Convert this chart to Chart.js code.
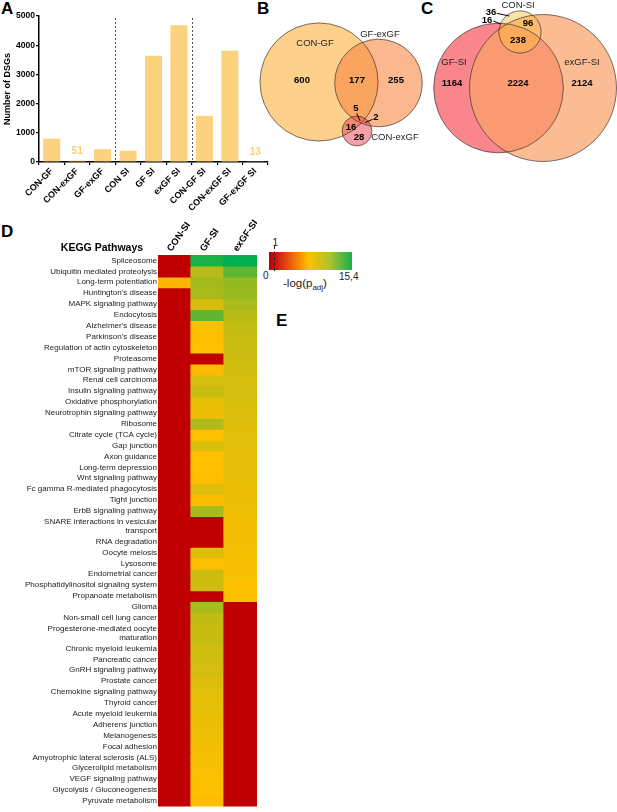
<!DOCTYPE html>
<html>
<head>
<meta charset="utf-8">
<script src="https://cdn.jsdelivr.net/npm/chart.js@4.4.0/dist/chart.umd.min.js"></script>
<style>
  body { margin: 0; width: 617px; height: 812px; position: relative; overflow: hidden; background: #fff;
         font-family: "Liberation Sans", Arial, sans-serif; color: #000; }
  .panel { position: absolute; font-weight: bold; font-size: 17px; line-height: 17px; }
  .box { position: absolute; }
  .txt { position: absolute; font-size: 10px; line-height: 10px; white-space: nowrap; color: #222; }
</style>
</head>
<body>
<div class="panel" style="left:1px;top:0px">A</div>
<div class="panel" style="left:257px;top:0px">B</div>
<div class="panel" style="left:421px;top:0px">C</div>
<div class="panel" style="left:1px;top:223px">D</div>
<div class="panel" style="left:276px;top:312px">E</div>

<div class="box" style="left:0;top:0;width:272px;height:222px"><canvas id="chartA"></canvas></div>
<div class="box" style="left:255px;top:0;width:362px;height:170px"><canvas id="chartVenn"></canvas></div>
<div class="box" style="left:0;top:200px;width:257px;height:612px"><canvas id="chartKegg"></canvas></div>
<div id="legend"></div>

<script>
Chart.defaults.font.family = '"Liberation Sans", Arial, sans-serif';
Chart.defaults.color = '#000';
Chart.defaults.animation = false;

// Panel A : nombre de DSGs par comparaison
const dsgCategories = ['CON-GF', 'CON-exGF', 'GF-exGF', 'CON SI', 'GF SI', 'exGF SI',
                       'CON-GF SI', 'CON-exGF SI', 'GF-exGF SI'];
const dsgCounts = [798, 51, 439, 386, 3642, 4682, 1580, 3810, 13];
const dsgTicks = [0, 1000, 2000, 3000, 4000, 5000];
const groupBreaks = [2, 5];

// Panels B et C : Venn
const vennBSets = ['CON-GF', 'GF-exGF', 'CON-exGF'];
const vennBTotals = [798, 439, 51];
const vennBRegions = [600, 177, 255, 5, 2, 16, 28];

const vennCSets = ['CON-SI', 'GF-SI', 'exGF-SI'];
const vennCTotals = [386, 3642, 4682];
const vennCRegions = [36, 16, 96, 238, 1164, 2224, 2124];

// Panel D : KEGG, -log(p adj)
const keggColumns = ['CON-SI', 'GF-SI', 'exGF-SI'];
const keggPathways = [
  'Spliceosome', 'Ubiquitin mediated proteolysis', 'Long-term potentiation', "Huntington's disease",
  'MAPK signaling pathway', 'Endocytosis', "Alzheimer's disease", "Parkinson's disease",
  'Regulation of actin cytoskeleton', 'Proteasome', 'mTOR signaling pathway', 'Renal cell carcinoma',
  'Insulin signaling pathway', 'Oxidative phosphorylation', 'Neurotrophin signaling pathway', 'Ribosome',
  'Citrate cycle (TCA cycle)', 'Gap junction', 'Axon guidance', 'Long-term depression',
  'Wnt signaling pathway', 'Fc gamma R-mediated phagocytosis', 'Tight junction', 'ErbB signaling pathway',
  ['SNARE interactions in vesicular', 'transport'], 'RNA degradation', 'Oocyte meiosis', 'Lysosome',
  'Endometrial cancer', 'Phosphatidylinositol signaling system', 'Propanoate metabolism', 'Glioma',
  'Non-small cell lung cancer', ['Progesterone-mediated oocyte', 'maturation'], 'Chronic myeloid leukemia',
  'Pancreatic cancer', 'GnRH signaling pathway', 'Prostate cancer', 'Chemokine signaling pathway',
  'Thyroid cancer', 'Acute myeloid leukemia', 'Adherens junction', 'Melanogenesis', 'Focal adhesion',
  'Amyotrophic lateral sclerosis (ALS)', 'Glycerolipid metabolism', 'VEGF signaling pathway',
  'Glycolysis / Gluconeogenesis', 'Pyruvate metabolism'
];
const conSI = [0, 0, 7.3, 0, 0, 0, 0, 0, 0, 0, 0, 0, 0, 0, 0, 0, 0, 0, 0, 0, 0, 0, 0, 0, 0,
               0, 0, 0, 0, 0, 0, 0, 0, 0, 0, 0, 0, 0, 0, 0, 0, 0, 0, 0, 0, 0, 0, 0, 0];
const gfSI = [14.6, 9.9, 10.5, 10.3, 9.0, 12.5, 7.8, 7.8, 7.7, 0, 7.5, 9.0, 9.4, 8.4, 8.3, 10.1,
              7.7, 8.8, 7.7, 7.7, 7.6, 8.7, 7.6, 10.3, 0, 0, 8.7, 7.8, 9.2, 9.2, 0, 10.3,
              9.6, 9.4, 9.2, 9.1, 9.0, 8.8, 8.6, 8.5, 8.4, 8.3, 8.2, 8.1, 8.0, 7.9, 7.8, 7.7, 7.6];
const exgfSI = [15.4, 12.6, 10.9, 10.8, 10.3, 9.9, 9.5, 9.4, 9.3, 9.2, 9.1, 9.0, 9.0, 8.9, 8.8, 8.7,
                8.6, 8.6, 8.5, 8.5, 8.4, 8.3, 8.3, 8.2, 8.1, 8.1, 8.0, 7.9, 7.9, 7.8, 7.8,
                0, 0, 0, 0, 0, 0, 0, 0, 0, 0, 0, 0, 0, 0, 0, 0, 0, 0];
const keggMax = 15.4;
const legendTicks = [0, 1, 15.4];
const legendTickLabels = ['0', '1', '15,4'];

// échelle rouge -> jaune -> vert
function valueColor(v) {
  const stops = [[0, [192, 0, 0]], [keggMax / 2, [255, 192, 0]], [keggMax, [0, 176, 80]]];
  for (let i = 1; i < stops.length; i++) {
    if (v <= stops[i][0]) {
      const t = (v - stops[i - 1][0]) / (stops[i][0] - stops[i - 1][0]);
      const a = stops[i - 1][1], b = stops[i][1];
      return 'rgb(' + a.map((c, j) => Math.round(c + (b[j] - c) * t)).join(',') + ')';
    }
  }
  return 'rgb(0,176,80)';
}

// ---------- Panel A ----------
const separatorPlugin = {
  id: 'separators',
  afterDatasetsDraw(chart) {
    const { ctx, chartArea, scales: { x } } = chart;
    ctx.save();
    ctx.strokeStyle = '#555';
    ctx.lineWidth = 1;
    ctx.setLineDash([2, 2]);
    groupBreaks.forEach(i => {
      const px = Math.round((x.getPixelForValue(i) + x.getPixelForValue(i + 1)) / 2) + 0.5;
      ctx.beginPath();
      ctx.moveTo(px, chartArea.top + 2);
      ctx.lineTo(px, chartArea.bottom);
      ctx.stroke();
    });
    ctx.restore();
  }
};

const smallValuePlugin = {
  id: 'smallValues',
  afterDatasetsDraw(chart) {
    const { ctx, scales: { x, y } } = chart;
    ctx.save();
    ctx.fillStyle = '#fbcf78';
    ctx.font = 'bold 10px "Liberation Sans", Arial, sans-serif';
    ctx.textAlign = 'center';
    ctx.textBaseline = 'bottom';
    dsgCounts.forEach((v, i) => {
      if (v < 100) ctx.fillText(String(v), x.getPixelForValue(i), y.getPixelForValue(v) - 4);
    });
    ctx.restore();
  }
};

new Chart(document.getElementById('chartA'), {
  type: 'bar',
  data: {
    labels: dsgCategories,
    datasets: [{ data: dsgCounts, backgroundColor: '#fdd27f', barPercentage: 0.67, categoryPercentage: 1 }]
  },
  options: {
    responsive: true,
    maintainAspectRatio: false,
    layout: { padding: { top: 16, right: 4, left: 2, bottom: 0 } },
    plugins: { legend: { display: false }, tooltip: { enabled: false } },
    scales: {
      x: {
        grid: { drawOnChartArea: false, tickLength: 3, color: '#000', lineWidth: 1.2 },
        border: { color: '#000', width: 1.5 },
        ticks: { color: '#000', font: { size: 9, weight: 'bold' }, minRotation: 45, maxRotation: 45, padding: 1 },
        afterFit: s => { s.height = 60; }
      },
      y: {
        min: 0, max: 5000,
        afterBuildTicks: s => { s.ticks = dsgTicks.map(v => ({ value: v })); },
        grid: { drawOnChartArea: false, tickLength: 3, color: '#000', lineWidth: 1.2 },
        border: { color: '#000', width: 1.5 },
        ticks: { color: '#000', font: { size: 8.5, weight: 'bold' }, padding: 1, callback: v => String(v) },
        title: { display: true, text: 'Number of DSGs', color: '#000', font: { size: 9, weight: 'bold' }, padding: 0 },
        afterFit: s => { s.width = 37; }
      }
    }
  },
  plugins: [separatorPlugin, smallValuePlugin]
});

// ---------- Panels B et C ----------
// géométrie des diagrammes (unités du canevas), rayon ~ k * sqrt(total)
const vennGeometry = [
  {
    names: vennBSets, totals: vennBTotals, regions: vennBRegions, k: 2.09,
    centers: [[64, 82], [123.5, 83], [102, 131]],
    order: [0, 1, 2],
    fills: ['rgba(253,209,139,1)', 'rgba(248,135,67,0.6)', 'rgba(233,65,81,0.5)'],
    namePos: [[60, 43], [125, 34], [140, 137]],
    regionPos: [[47, 80], [102, 80], [141, 80], [101, 108], [121, 117], [96, 127], [104, 137]],
    leaders: [[[101.7, 113.3], [105, 120.7]], [[117.7, 119.3], [110, 122.7]]]
  },
  {
    names: vennCSets, totals: vennCTotals, regions: vennCRegions, k: 1.074,
    centers: [[265, 32], [243.5, 88], [288, 88]],
    order: [1, 2, 0],
    fills: ['rgba(250,190,60,0.45)', 'rgba(248,134,140,1)', 'rgba(250,162,105,0.72)'],
    namePos: [[263, 5], [199, 62], [327, 62]],
    regionPos: [[236, 12], [232, 20], [273, 23], [263, 40], [197, 83], [263, 83], [327, 83]],
    leaders: [[[241.7, 13.3], [254.3, 16]], [[238.3, 21], [245.7, 24]]]
  }
];

const vennPlugin = {
  id: 'venn',
  afterDatasetsDraw(chart) {
    const { ctx, scales: { x, y } } = chart;
    const px = v => x.getPixelForValue(v), py = v => y.getPixelForValue(v);
    ctx.save();
    vennGeometry.forEach(g => {
      const circles = g.order.map(i => {
        const [cx, cy] = g.centers[i];
        const r = g.k * Math.sqrt(g.totals[i]);
        return { i, X: px(cx), Y: py(cy), R: px(cx + r) - px(cx) };
      });
      circles.forEach(c => {
        ctx.beginPath();
        ctx.arc(c.X, c.Y, c.R, 0, Math.PI * 2);
        ctx.fillStyle = g.fills[c.i];
        ctx.fill();
      });
      ctx.strokeStyle = 'rgba(60,48,40,0.85)';
      ctx.lineWidth = 0.8;
      circles.forEach(c => {
        ctx.beginPath();
        ctx.arc(c.X, c.Y, c.R, 0, Math.PI * 2);
        ctx.stroke();
      });
      ctx.strokeStyle = '#000';
      ctx.lineWidth = 1;
      g.leaders.forEach(([a, b]) => {
        ctx.beginPath();
        ctx.moveTo(px(a[0]), py(a[1]));
        ctx.lineTo(px(b[0]), py(b[1]));
        ctx.stroke();
      });
      ctx.textAlign = 'center';
      ctx.textBaseline = 'middle';
      ctx.fillStyle = '#222';
      ctx.font = '9.5px "Liberation Sans", Arial, sans-serif';
      g.names.forEach((n, i) => ctx.fillText(n, px(g.namePos[i][0]), py(g.namePos[i][1])));
      ctx.fillStyle = '#000';
      ctx.font = 'bold 9.5px "Liberation Sans", Arial, sans-serif';
      g.regions.forEach((n, i) => ctx.fillText(String(n), px(g.regionPos[i][0]), py(g.regionPos[i][1])));
    });
    ctx.restore();
  }
};

new Chart(document.getElementById('chartVenn'), {
  type: 'scatter',
  data: { datasets: [{ data: [] }] },
  options: {
    responsive: true,
    maintainAspectRatio: false,
    layout: { padding: 0 },
    plugins: { legend: { display: false }, tooltip: { enabled: false } },
    scales: {
      x: { display: false, min: 0, max: 362 },
      y: { display: false, min: 0, max: 170, reverse: true }
    }
  },
  plugins: [vennPlugin]
});

// ---------- Panel D : heatmap ----------
const keggValues = [conSI, gfSI, exgfSI];
// les lignes à deux lignes de texte sont plus hautes (20 px contre 11 px)
const rowUnits = keggPathways.map(p => (Array.isArray(p) ? 20 / 11 : 1));
const rowStarts = [];
rowUnits.reduce((acc, u) => { rowStarts.push(acc); return acc + u; }, 0);
const rowTotal = rowUnits.reduce((a, b) => a + b, 0);
const rowCenters = rowStarts.map((s, i) => s + rowUnits[i] / 2);

// titre "KEGG Pathways" et en-têtes de colonnes inclinés
const keggHeaderPlugin = {
  id: 'keggHeader',
  afterDraw(chart) {
    const { ctx, chartArea, scales: { x } } = chart;
    ctx.save();
    ctx.fillStyle = '#000';
    ctx.font = 'bold 10.5px "Liberation Sans", Arial, sans-serif';
    ctx.textAlign = 'center';
    ctx.textBaseline = 'middle';
    ctx.fillText('KEGG Pathways', 102, chartArea.top - 7);
    ctx.font = 'bold 9.5px "Liberation Sans", Arial, sans-serif';
    ctx.textAlign = 'left';
    ctx.textBaseline = 'alphabetic';
    keggColumns.forEach((name, i) => {
      ctx.save();
      ctx.translate(x.getPixelForValue(i) - 3, chartArea.top - 3);
      ctx.rotate(-55 * Math.PI / 180);
      ctx.fillText(name, 0, 0);
      ctx.restore();
    });
    ctx.restore();
  }
};

new Chart(document.getElementById('chartKegg'), {
  type: 'bar',
  data: {
    labels: keggColumns,
    datasets: keggPathways.map((name, ri) => ({
      label: Array.isArray(name) ? name.join(' ') : name,
      data: keggColumns.map(() => [rowStarts[ri], rowStarts[ri] + rowUnits[ri]]),
      backgroundColor: keggColumns.map((c, ci) => valueColor(keggValues[ci][ri])),
      borderWidth: 0,
      inflateAmount: 0.6,
      grouped: false,
      barPercentage: 1,
      categoryPercentage: 1
    }))
  },
  options: {
    responsive: true,
    maintainAspectRatio: false,
    layout: { padding: { top: 0, right: 0, left: 0, bottom: 0 } },
    plugins: { legend: { display: false }, tooltip: { enabled: false } },
    scales: {
      x: {
        type: 'category', position: 'top',
        grid: { display: false, drawTicks: false }, border: { display: false },
        ticks: { display: false },
        afterFit: s => { s.height = 55; }
      },
      y: {
        type: 'linear', reverse: true, min: 0, max: rowTotal,
        afterBuildTicks: s => { s.ticks = rowCenters.map(v => ({ value: v })); },
        grid: { display: false, drawTicks: false }, border: { display: false },
        ticks: { color: '#222', font: { size: 8, lineHeight: 1.15 }, padding: 1, autoSkip: false,
                 callback: (v, i) => keggPathways[i] },
        afterFit: s => { s.width = 158; }
      }
    }
  },
  plugins: [keggHeaderPlugin]
});

// légende de l'échelle de couleurs
(function buildLegend() {
  const left = 269, top = 252, w = 83, h = 18;
  const leg = document.getElementById('legend');
  const bar = document.createElement('div');
  bar.style.cssText = `position:absolute;left:${left}px;top:${top}px;width:${w}px;height:${h}px;` +
    'background:linear-gradient(to right,#b3000f 0%,#cf1a0e 10%,#ec7010 30%,#ffc000 48%,#a9c232 74%,#14b04e 100%)';
  leg.appendChild(bar);
  legendTicks.forEach((v, i) => {
    const x = left + (v / keggMax) * w;
    const t = document.createElement('div');
    t.className = 'txt';
    t.textContent = legendTickLabels[i];
    if (v === 1) {
      const d = document.createElement('div');
      d.style.cssText = `position:absolute;left:${Math.round(x)}px;top:${top - 6}px;height:${h + 7}px;border-left:1px dashed #222`;
      leg.appendChild(d);
      t.style.left = (x - 2) + 'px'; t.style.top = (top - 14) + 'px';
    } else if (v === 0) {
      t.style.left = (x - 6) + 'px'; t.style.top = (top + h + 1) + 'px';
    } else {
      t.style.left = (x - 13) + 'px'; t.style.top = (top + h + 2) + 'px';
    }
    leg.appendChild(t);
  });
  const lab = document.createElement('div');
  lab.className = 'txt';
  lab.style.cssText = `left:283px;top:${top + h + 7}px;font-size:11.5px;line-height:12px`;
  lab.innerHTML = '-log(p<sub style="font-size:8px">adj</sub>)';
  leg.appendChild(lab);
})();
</script>
</body>
</html>
